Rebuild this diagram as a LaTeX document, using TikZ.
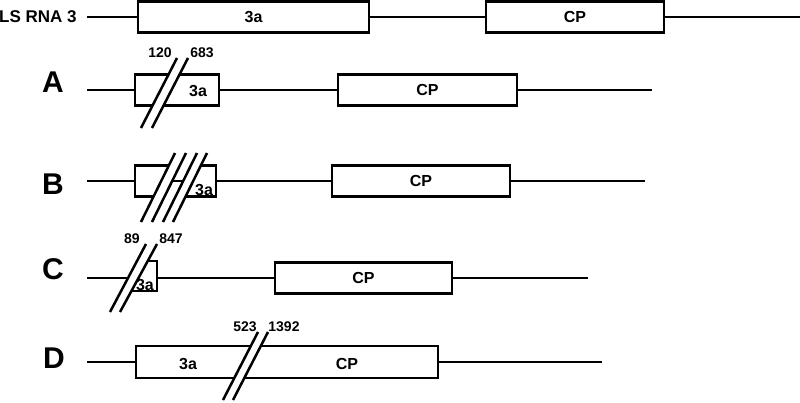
\documentclass[tikz,border=0pt]{standalone}
\usepackage{fontspec}
\setmainfont{Liberation Sans}
\usetikzlibrary{calc}
\newcommand{\genefont}{\fontsize{16}{18}\selectfont\bfseries}
\newcommand{\numfont}{\fontsize{14}{16}\selectfont\bfseries}
\newcommand{\rowfont}{\fontsize{30}{33}\selectfont\bfseries}

\begin{document}
\begin{tikzpicture}[x=1pt,y=-1pt,
  gene/.style={draw,line width=2.5pt,fill=white,inner sep=0pt,minimum height=31pt,font=\genefont},
  rna/.style={line width=2.5pt},
  cut/.style={line width=2.5pt},
  mask/.style={fill=white},
  rowlbl/.style={font=\rowfont,inner sep=0pt},
  numlbl/.style={font=\numfont,inner sep=0pt},
  txt/.style={font=\genefont,inner sep=0pt}]
\useasboundingbox (0,0) rectangle (800,402);

% full RNA 3
\node[txt,anchor=west,font=\fontsize{17}{19}\selectfont\bfseries] (rna3) at (-1,17) {LS RNA 3};
\coordinate (r0) at (87,17);
\coordinate (r1) at (801,17);
\node[gene,minimum width=231pt] (r3a) at (253.5,17) {3a};
\node[gene,minimum width=178pt] (rCP) at (575,17) {CP};
\draw[rna] (r0) -- (r3a) (r3a) -- (rCP) (rCP) -- (r1);

% A
\node[rowlbl] (A) at (53,82) {A};
\coordinate (a0) at (87,90);
\coordinate (a1) at (652,90);
\node[gene,minimum width=84pt] (a3a) at (177,90) {};
\node[gene,minimum width=179pt] (aCP) at (427.5,90) {CP};
\draw[rna] (a0) -- (a3a) (a3a) -- (aCP) (aCP) -- (a1);
\fill[mask] (141,128) -- (177,58) -- (188,58) -- (152,128) -- cycle;
\draw[cut] (141,128) -- (177,58) (152,128) -- (188,58);
\node[txt] (a3aT) at (198,91) {3a};
\node[numlbl] (a120) at (160,53) {120};
\node[numlbl] (a683) at (202,53) {683};

% B
\node[rowlbl] (B) at (53,184) {B};
\coordinate (b0) at (87,181);
\coordinate (b1) at (645,181);
\node[gene,minimum width=81pt] (b3a) at (175.5,181) {};
\node[gene,minimum width=178pt] (bCP) at (421,181) {CP};
\draw[rna] (b0) -- (b3a) (b3a) -- (bCP) (bCP) -- (b1);
\fill[mask] (141,222) -- (175,153) -- (207,153) -- (173,222) -- cycle;
\coordinate (bgap0) at (172,181);
\coordinate (bgap1) at (184,181);
\draw[rna] (bgap0) -- (bgap1);
\foreach \xb/\xt in {141/175,152/186,163/197,173/207}
  \draw[cut] (\xb,222) -- (\xt,153);
\node[txt] (b3aT) at (204,190) {3a};

% C
\node[rowlbl] (C) at (53,269) {C};
\coordinate (c0) at (87,278);
\coordinate (ccut) at (128,278);
\coordinate (c3ae) at (157,278);
\coordinate (c1) at (588,278);
\node[gene,minimum width=177pt] (cCP) at (363.5,278) {CP};
\draw[rna] (c0) -- (ccut) (c3ae) -- (cCP) (cCP) -- (c1);
\draw[line width=2.5pt,fill=white] (147.8,261) -- (157,261) -- (157,291) -- (131.4,291);
\fill[mask] (110,312) -- (146,244) -- (157,244) -- (120,312) -- cycle;
\draw[cut] (110,312) -- (146,244) (120,312) -- (157,244);
\node[txt] (c3aT) at (145,285) {3a};
\node[numlbl] (c89) at (132,239) {89};
\node[numlbl] (c847) at (171,239) {847};

% D
\node[rowlbl] (D) at (54,358) {D};
\coordinate (d0) at (87,362);
\coordinate (d1) at (602,362);
\node[gene,minimum width=302pt,minimum height=32pt] (dbox) at (287,362) {};
\draw[rna] (d0) -- (dbox) (dbox) -- (d1);
\fill[mask] (223,400) -- (258,332) -- (268,332) -- (233,400) -- cycle;
\draw[cut] (223,400) -- (258,332) (233,400) -- (268,332);
\node[txt] (d3aT) at (188,364) {3a};
\node[txt] (dCPT) at (347,364) {CP};
\node[numlbl] (d523) at (245,327) {523};
\node[numlbl] (d1392) at (284,327) {1392};
\end{tikzpicture}
\end{document}
